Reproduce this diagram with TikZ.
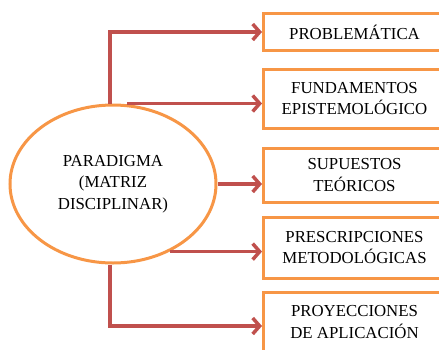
\documentclass[tikz,border=0pt]{standalone}
\usepackage{fontspec}
\setmainfont{Liberation Serif}
\usetikzlibrary{arrows.meta,shapes.geometric}
\definecolor{boxorange}{HTML}{F79646}
\definecolor{arrowred}{HTML}{C0504D}
\tikzset{
    item/.style={draw=boxorange,line width=3pt,rectangle,anchor=west,minimum width=182pt,align=center,inner sep=0pt},
    link/.style={draw=arrowred,line width=3.5pt,-{Straight Barb[length=7pt,width=16pt]}}
}
\begin{document}
\begin{tikzpicture}[x=1pt,y=-1pt,font=\fontsize{16.8}{21.5}\selectfont]
    \useasboundingbox (0,0) rectangle (439,349);
    %% central ellipse
    \node[draw=boxorange,line width=3pt,ellipse,minimum width=206pt,minimum height=158pt,align=center,inner sep=0pt] (P) at (113,184) {PARADIGMA\\(MATRIZ\\DISCIPLINAR)};
    %% boxes
    \node[item,minimum height=37pt] (B1) at (262,32) {PROBLEMÁTICA};
    \node[item,minimum height=59pt] (B2) at (262,98.5) {FUNDAMENTOS\\EPISTEMOLÓGICO};
    \node[item,minimum height=54pt] (B3) at (262,175) {SUPUESTOS\\TEÓRICOS};
    \node[item,minimum height=61pt] (B4) at (262,247.5) {PRESCRIPCIONES\\METODOLÓGICAS};
    \node[item,minimum height=60pt] (B5) at (262,322) {PROYECCIONES\\DE APLICACIÓN};
    %% arrows
    \draw[link] ([xshift=-3pt]P.north) |- (B1.west);
    \draw[link] ([xshift=14pt]P.north) -- (P.north -| B2.west);
    \draw[link] (P.east) -- (P.east -| B3.west);
    \draw[link] (P.-50) -- (P.-50 -| B4.west);
    \draw[link] ([xshift=-3pt]P.south) |- ([yshift=-4pt]B5.west);
\end{tikzpicture}
\end{document}
